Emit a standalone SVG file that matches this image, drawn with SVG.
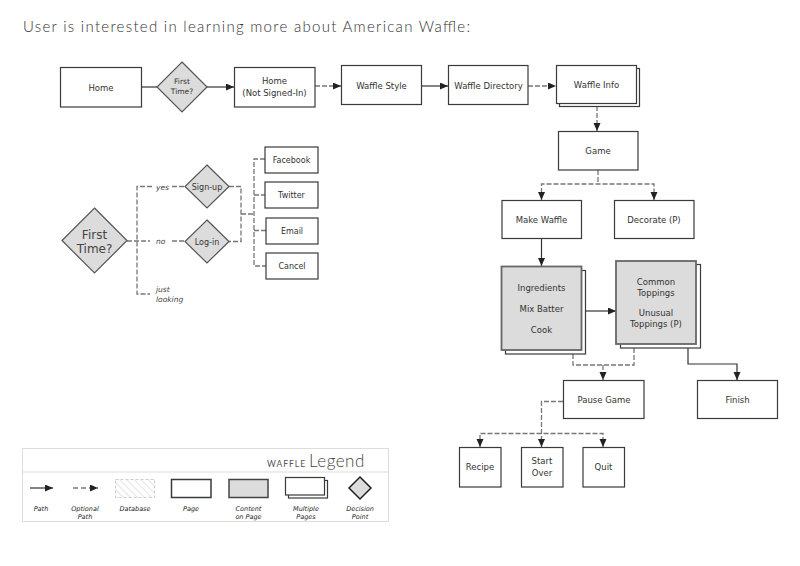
<svg xmlns="http://www.w3.org/2000/svg" width="800" height="566" viewBox="0 0 800 566">
<defs>
<style>
.box{fill:#fff;stroke:#3a3a3a;stroke-width:1.2}
.cont{fill:#dcdcdc;stroke:#666;stroke-width:1.8}
.dia{fill:#dcdcdc;stroke:#555;stroke-width:1.2}
.t{font-family:"DejaVu Sans",Verdana,sans-serif;font-size:8.5px;fill:#333;text-anchor:middle}
.i{font-family:"DejaVu Sans",Verdana,sans-serif;font-size:7.5px;font-style:italic;fill:#444}
.li{font-family:"DejaVu Sans",Verdana,sans-serif;font-size:6.5px;font-style:italic;fill:#222;text-anchor:middle}
.s{stroke:#333;stroke-width:1.2;fill:none}
.d{stroke:#777;stroke-width:1.3;fill:none;stroke-dasharray:5 2}
</style>
<marker id="ah" markerUnits="userSpaceOnUse" markerWidth="9" markerHeight="8" refX="8" refY="3.5" orient="auto">
<path d="M0,0 L8,3.5 L0,7 z" fill="#222"/>
</marker>
<pattern id="hatch" width="5" height="5" patternUnits="userSpaceOnUse" patternTransform="rotate(-45)">
<line x1="0" y1="0" x2="0" y2="5" stroke="#ccc" stroke-width="1"/>
</pattern>
</defs>
<rect width="800" height="566" fill="#fff"/>
<text x="23" y="31.5" font-family="Lato,'Open Sans','Liberation Sans',sans-serif" font-weight="300" font-size="15" fill="#333" textLength="447" lengthAdjust="spacing">User is interested in learning more about American Waffle:</text>

<g id="connectors">
<line class="s" x1="142" y1="87" x2="157" y2="87"/>
<line class="s" x1="207" y1="87" x2="234" y2="87" marker-end="url(#ah)"/>
<line class="d" x1="315" y1="86" x2="341" y2="86" marker-end="url(#ah)"/>
<line class="s" x1="421" y1="86" x2="448" y2="86" marker-end="url(#ah)"/>
<line class="d" x1="528" y1="86" x2="556" y2="86" marker-end="url(#ah)"/>
<line class="d" x1="597" y1="106" x2="597" y2="131" marker-end="url(#ah)"/>
<path class="d" d="M598,170 V184"/>
<path class="d" d="M541.5,200 V184 H654 V200"/>
<line x1="541.5" y1="192" x2="541.5" y2="200" class="s" marker-end="url(#ah)" stroke-opacity="0"/>
<line x1="654" y1="192" x2="654" y2="200" class="s" marker-end="url(#ah)" stroke-opacity="0"/>
<line class="s" x1="541.5" y1="238" x2="541.5" y2="266" marker-end="url(#ah)"/>
<line class="s" x1="585" y1="311" x2="616" y2="311" marker-end="url(#ah)"/>
<path class="d" d="M573,354 V365 H634 V348"/>
<line class="d" x1="603" y1="365" x2="603" y2="380" marker-end="url(#ah)"/>
<path class="s" d="M688,348 V364 H737 V380" marker-end="url(#ah)"/>
<path class="d" d="M563,401.5 H541.5 V447" marker-end="url(#ah)"/>
<path class="d" d="M480,447 V433.5 H603 V447"/>
<line x1="480" y1="440" x2="480" y2="447" class="s" marker-end="url(#ah)" stroke-opacity="0"/>
<line x1="603" y1="440" x2="603" y2="447" class="s" marker-end="url(#ah)" stroke-opacity="0"/>
<!-- left decision area -->
<path class="d" d="M127,241 H150"/>
<path class="d" d="M152,186.5 H137 V294 H150"/>
<path class="d" d="M172,186.5 H185"/>
<path class="d" d="M172,241 H185"/>
<path class="d" d="M229,186.5 H241 V241.5 H229"/>
<path class="d" d="M241,214 H254"/>
<path class="d" d="M265,159 H254 V266 H266"/>
<path class="d" d="M254,195 H265"/>
<path class="d" d="M254,230.5 H266"/>
</g>

<g id="home"><rect class="box" x="60.5" y="67.5" width="81" height="39.5"/><text class="t" x="101" y="90.5">Home</text></g>
<g id="first-time-top"><polygon class="dia" points="182,62 207,87 182,112 157,87"/><text class="t" x="182" y="84" style="font-size:7.5px">First</text><text class="t" x="182" y="94" style="font-size:7.5px">Time?</text></g>
<g id="home-not-signed-in"><rect class="box" x="234.5" y="67.5" width="80.5" height="39.5"/><text class="t" x="274.5" y="84">Home</text><text class="t" x="274.5" y="95.5">(Not Signed-In)</text></g>
<g id="waffle-style"><rect class="box" x="341.5" y="65.5" width="80" height="39"/><text class="t" x="381.5" y="88.5">Waffle Style</text></g>
<g id="waffle-directory"><rect class="box" x="448.5" y="65.5" width="79.5" height="39"/><text class="t" x="488.5" y="88.5">Waffle Directory</text></g>
<g id="waffle-info"><rect class="box" x="559.5" y="68.5" width="80" height="38"/><rect class="box" x="556.5" y="65.5" width="80" height="38"/><text class="t" x="596.5" y="87.5">Waffle Info</text></g>
<g id="game"><rect class="box" x="558.5" y="131.5" width="79.5" height="38.5"/><text class="t" x="598" y="154">Game</text></g>
<g id="make-waffle"><rect class="box" x="502" y="200.5" width="79.5" height="38"/><text class="t" x="541.5" y="222.5">Make Waffle</text></g>
<g id="decorate"><rect class="box" x="614.5" y="200.5" width="79.5" height="38"/><text class="t" x="654" y="222.5">Decorate (P)</text></g>
<g id="make-content"><rect class="box" x="505.5" y="270.5" width="80" height="83.5"/><rect class="cont" x="501.5" y="266.5" width="80" height="83.5"/>
<text class="t" x="541.5" y="291">Ingredients</text><text class="t" x="541.5" y="312">Mix Batter</text><text class="t" x="541.5" y="333">Cook</text></g>
<g id="toppings"><rect class="box" x="620.5" y="264.5" width="80" height="83.5"/><rect class="cont" x="616" y="261" width="80" height="83"/>
<text class="t" x="656" y="285">Common</text><text class="t" x="656" y="296">Toppings</text><text class="t" x="656" y="316">Unusual</text><text class="t" x="656" y="327">Toppings (P)</text></g>
<g id="pause-game"><rect class="box" x="563.5" y="380.5" width="80.5" height="38"/><text class="t" x="604" y="402.5">Pause Game</text></g>
<g id="finish"><rect class="box" x="697.5" y="380.5" width="80" height="38"/><text class="t" x="737.5" y="402.5">Finish</text></g>
<g id="recipe"><rect class="box" x="459.5" y="447.5" width="41.5" height="39.5"/><text class="t" x="480" y="470">Recipe</text></g>
<g id="start-over"><rect class="box" x="521.5" y="447.5" width="41.5" height="39.5"/><text class="t" x="542" y="464">Start</text><text class="t" x="542" y="475.5">Over</text></g>
<g id="quit"><rect class="box" x="583" y="447.5" width="41.5" height="39.5"/><text class="t" x="603.5" y="470">Quit</text></g>

<g id="first-time"><polygon class="dia" points="94.5,208 127,240.5 94.5,273 62,240.5"/><text class="t" x="94.5" y="239" style="font-size:12px;fill:#444">First</text><text class="t" x="94.5" y="253" style="font-size:12px;fill:#444">Time?</text></g>
<text class="i" x="156" y="189.5">yes</text>
<text class="i" x="156" y="244">no</text>
<text class="i" x="156" y="292">just</text>
<text class="i" x="156" y="302">looking</text>
<g id="sign-up"><polygon class="dia" points="207,165 229,186.5 207,208 185,186.5"/><text class="t" x="207" y="189.5" style="font-size:8px">Sign-up</text></g>
<g id="log-in"><polygon class="dia" points="207,220 229,241.5 207,263 185,241.5"/><text class="t" x="207" y="244.5" style="font-size:8px">Log-in</text></g>
<g id="facebook"><rect class="box" x="265" y="147" width="53" height="26"/><text class="t" x="291.5" y="163" style="font-size:8px">Facebook</text></g>
<g id="twitter"><rect class="box" x="265" y="182" width="53" height="26"/><text class="t" x="291.5" y="198" style="font-size:8px">Twitter</text></g>
<g id="email"><rect class="box" x="266" y="218" width="52" height="26"/><text class="t" x="292" y="234" style="font-size:8px">Email</text></g>
<g id="cancel"><rect class="box" x="266" y="253" width="52" height="26"/><text class="t" x="292" y="269" style="font-size:8px">Cancel</text></g>

<g id="legend">
<rect x="22.5" y="448.5" width="366" height="73" fill="#fff" stroke="#ddd" stroke-width="1"/>
<line x1="22.5" y1="472" x2="388.5" y2="472" stroke="#ddd" stroke-width="1"/>
<text x="267" y="466.5" font-family="Lato,'Open Sans','Liberation Sans',sans-serif" font-size="8.5" letter-spacing="1" fill="#555">WAFFLE</text>
<text x="309" y="466.5" font-family="Lato,'Open Sans','Liberation Sans',sans-serif" font-weight="300" font-size="17" fill="#444" letter-spacing="0.5">Legend</text>
<line class="s" x1="30" y1="488" x2="53" y2="488" marker-end="url(#ah)"/>
<line x1="73" y1="488" x2="98" y2="488" stroke="#333" stroke-width="1.2" stroke-dasharray="5 3" marker-end="url(#ah)"/>
<rect x="115.5" y="479.5" width="39" height="18" fill="url(#hatch)" stroke="#ccc" stroke-dasharray="3 2"/>
<rect class="box" x="171.5" y="479.5" width="39.5" height="18" style="stroke-width:1.5"/>
<rect class="cont" x="229" y="479.5" width="39" height="18" style="stroke:#444;stroke-width:1.5"/>
<rect class="box" x="288.5" y="480.5" width="39" height="17.5"/>
<rect class="box" x="285.5" y="477.5" width="39" height="17.5"/>
<polygon class="dia" points="360,477 371,488 360,499 349,488" style="stroke:#222;stroke-width:1.5"/>
<text class="li" x="41" y="511">Path</text>
<text class="li" x="85" y="511">Optional</text><text class="li" x="85" y="518.5">Path</text>
<text class="li" x="135" y="511">Database</text>
<text class="li" x="191" y="511">Page</text>
<text class="li" x="248.5" y="511">Content</text><text class="li" x="248.5" y="518.5">on Page</text>
<text class="li" x="306" y="511">Multiple</text><text class="li" x="306" y="518.5">Pages</text>
<text class="li" x="360" y="511">Decision</text><text class="li" x="360" y="518.5">Point</text>
</g>
</svg>
